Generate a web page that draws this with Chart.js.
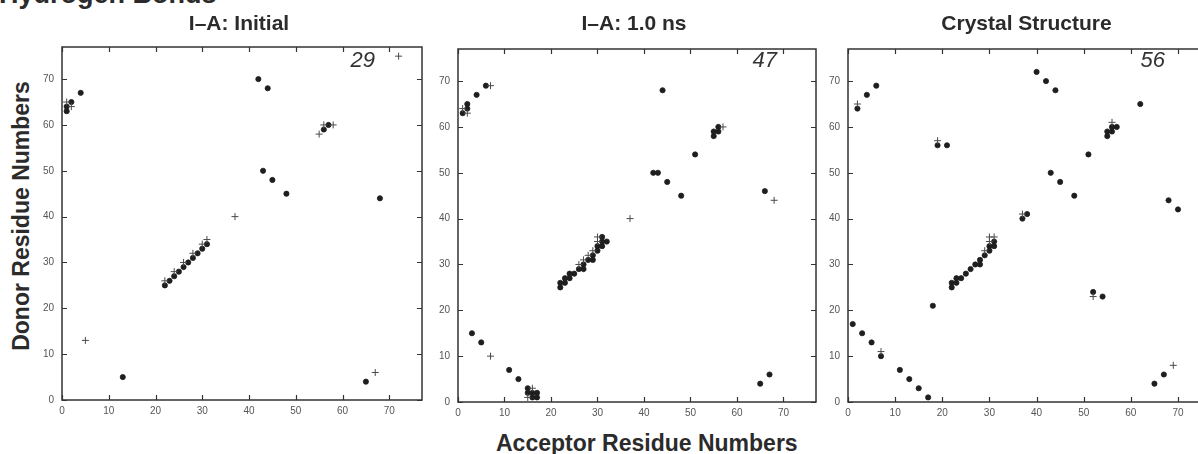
<!DOCTYPE html>
<html>
<head>
<meta charset="utf-8">
<script src="https://cdn.jsdelivr.net/npm/chart.js@4.4.0/dist/chart.umd.min.js"></script>
<style>
  html, body { margin: 0; padding: 0; background: #fff; }
  body { width: 1198px; height: 454px; position: relative; overflow: hidden;
         font-family: "Liberation Sans", Arial, Helvetica, sans-serif; color: #2b2b2b; }
  .panel { position: absolute; }
  .lbl { position: absolute; white-space: nowrap; }
  .ptitle { font-weight: bold; font-size: 21px; line-height: 21px; width: 300px; text-align: center; top: 12px; }
  .count { font-style: italic; font-size: 22px; line-height: 22px; top: 49px; color: #333; }
</style>
</head>
<body>
<div class="lbl" style="left:-1px; top:-19px; font-size:27px; line-height:26px; font-weight:bold;">Hydrogen Bonds</div>
<div class="lbl" style="left:21px; top:216px; font-size:23px; line-height:23px; font-weight:bold; transform:translate(-50%,-50%) rotate(-90deg);">Donor Residue Numbers</div>
<div class="lbl" style="left:496px; width:300px; text-align:center; top:432px; font-size:23px; line-height:23px; font-weight:bold;">Acceptor Residue Numbers</div>

<div class="panel" id="p1"><canvas id="c1"></canvas></div>
<div class="panel" id="p2"><canvas id="c2"></canvas></div>
<div class="panel" id="p3"><canvas id="c3"></canvas></div>

<script>
// axis setup
const AXIS_MAX = 77;
const TICKS = [0, 10, 20, 30, 40, 50, 60, 70];

// panel titles and H-bond counts
const TITLES = ['I\u2013A: Initial', 'I\u2013A: 1.0 ns', 'Crystal Structure'];
const COUNTS = ['29', '47', '56'];

// [acceptor, donor] pairs
const initialDots = [[1,63],[1,64],[2,65],[4,67],[42,70],[44,68],[56,59],[57,60],[43,50],[45,48],[48,45],[68,44],
  [13,5],[65,4],[22,25],[23,26],[24,27],[25,28],[26,29],[27,30],[28,31],[29,32],[30,33],[31,34]];
const initialCrosses = [[2,64],[1,65],[55,58],[56,60],[58,60],[72,75],[37,40],[22,26],[24,28],[26,30],[28,32],
  [30,34],[31,35],[5,13],[67,6]];

const nsDots = [[1,63],[2,64],[2,65],[4,67],[6,69],[44,68],[51,54],[55,58],[55,59],[56,59],[56,60],[42,50],[43,50],
  [45,48],[48,45],[66,46],[22,25],[22,26],[23,26],[23,27],[24,27],[24,28],[25,28],[26,29],[27,29],[27,30],[28,31],
  [29,31],[29,32],[30,33],[30,34],[31,34],[31,35],[31,36],[32,35],[3,15],[5,13],[11,7],[13,5],[15,3],[15,2],[16,2],
  [16,1],[17,1],[17,2],[65,4],[67,6]];
const nsCrosses = [[1,64],[2,63],[7,69],[57,60],[68,44],[37,40],[26,30],[27,31],[28,32],[29,33],[30,35],[30,36],
  [7,10],[15,1],[16,3]];

const crystalDots = [[2,64],[4,67],[6,69],[19,56],[21,56],[40,72],[42,70],[44,68],[62,65],[51,54],[55,58],[55,59],
  [56,59],[56,60],[57,60],[43,50],[45,48],[48,45],[68,44],[70,42],[37,40],[38,41],[22,25],[22,26],[23,26],[23,27],
  [24,27],[25,28],[26,29],[27,30],[28,30],[28,31],[29,32],[30,33],[30,34],[31,34],[31,35],[18,21],[52,24],[54,23],
  [1,17],[3,15],[5,13],[7,10],[11,7],[13,5],[15,3],[17,1],[65,4],[67,6]];
const crystalCrosses = [[2,65],[19,57],[56,61],[37,41],[30,35],[30,36],[31,36],[29,33],[52,23],[7,11],[69,8]];

const SERIES = [
  { dots: initialDots, crosses: initialCrosses },
  { dots: nsDots,      crosses: nsCrosses },
  { dots: crystalDots, crosses: crystalCrosses },
];

// plot areas in page pixels
const AREAS = [
  { l: 62,  t: 39, w: 360, h: 361 },
  { l: 458, t: 41, w: 358, h: 361 },
  { l: 848, t: 41, w: 363, h: 361 },
];
const COUNT_RIGHT = [375, 777, 1165];

const Y_W = 40, X_H = 30, PAD = 6, TICK_LEN = 5;
const FONT = '"Liberation Sans", Arial, Helvetica, sans-serif';

const frameTicks = {
  id: 'frameTicks',
  beforeDatasetsDraw(chart) {
    const { ctx, chartArea: a, scales: { x, y } } = chart;
    ctx.save();
    ctx.strokeStyle = '#333';
    ctx.lineWidth = 1.5;
    ctx.strokeRect(a.left, a.top, a.right - a.left, a.bottom - a.top);
    ctx.lineWidth = 1.2;
    ctx.beginPath();
    x.ticks.forEach(t => {
      const px = Math.round(x.getPixelForValue(t.value)) + 0.5;
      ctx.moveTo(px, a.bottom); ctx.lineTo(px, a.bottom - TICK_LEN);
      ctx.moveTo(px, a.top);    ctx.lineTo(px, a.top + TICK_LEN);
    });
    y.ticks.forEach(t => {
      const py = Math.round(y.getPixelForValue(t.value)) + 0.5;
      ctx.moveTo(a.left, py);  ctx.lineTo(a.left + TICK_LEN, py);
      ctx.moveTo(a.right, py); ctx.lineTo(a.right - TICK_LEN, py);
    });
    ctx.stroke();
    ctx.restore();
  }
};

const toPts = arr => arr.map(([x, y]) => ({ x, y }));

function axis(isX) {
  return {
    type: 'linear',
    min: 0,
    max: AXIS_MAX,
    afterBuildTicks: s => { s.ticks = TICKS.map(v => ({ value: v })); },
    afterFit: s => { if (isX) s.height = X_H; else s.width = Y_W; },
    grid: { display: false, drawTicks: false },
    border: { display: false },
    ticks: { color: '#555', font: { family: FONT, size: 10 }, padding: isX ? 5 : 8, maxRotation: 0 },
  };
}

function makePanel(i) {
  const a = AREAS[i];
  const box = document.getElementById('p' + (i + 1));
  box.style.left = (a.l - Y_W) + 'px';
  box.style.top = (a.t - PAD) + 'px';
  const cv = document.getElementById('c' + (i + 1));
  cv.width = a.w + Y_W + PAD;
  cv.height = a.h + PAD + X_H;

  new Chart(cv.getContext('2d'), {
    type: 'scatter',
    data: {
      datasets: [
        {
          label: 'transient',
          data: toPts(SERIES[i].crosses),
          pointStyle: 'cross',
          radius: 3.5,
          borderColor: '#4a4a4a',
          borderWidth: 1,
        },
        {
          label: 'persistent',
          data: toPts(SERIES[i].dots),
          pointStyle: 'circle',
          radius: 2.6,
          backgroundColor: '#1e1e1e',
          borderColor: '#1e1e1e',
          borderWidth: 0.8,
        },
      ]
    },
    options: {
      responsive: false,
      animation: false,
      events: [],
      layout: { padding: { top: PAD, right: PAD, left: 0, bottom: 0 } },
      plugins: { legend: { display: false }, tooltip: { enabled: false } },
      scales: { x: axis(true), y: axis(false) },
    },
    plugins: [frameTicks],
  });

  const title = document.createElement('div');
  title.className = 'lbl ptitle';
  title.textContent = TITLES[i];
  title.style.left = (a.l + a.w / 2 - 150 - 3) + 'px';
  document.body.appendChild(title);

  const cnt = document.createElement('div');
  cnt.className = 'lbl count';
  cnt.textContent = COUNTS[i];
  cnt.style.left = (COUNT_RIGHT[i] - 60) + 'px';
  cnt.style.width = '60px';
  cnt.style.textAlign = 'right';
  document.body.appendChild(cnt);
}

[0, 1, 2].forEach(makePanel);
</script>
</body>
</html>
